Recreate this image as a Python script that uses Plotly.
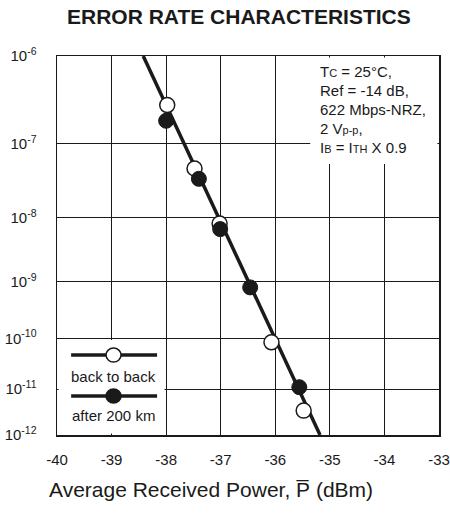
import numpy as np
import plotly.graph_objects as go

# ---- data ----
power_ticks = [-40, -39, -38, -37, -36, -35, -34, -33]
ber_exponents = [-6, -7, -8, -9, -10, -11, -12]

b2b_power = [-37.98, -37.48, -37.02, -36.07, -35.48]
b2b_ber = [2.9e-7, 4.8e-8, 8.2e-9, 8.5e-11, 3.5e-12]

km200_power = [-38.0, -37.40, -37.01, -36.46, -35.56]
km200_ber = [1.9e-7, 3.5e-8, 6.8e-9, 8.1e-10, 1.1e-11]

fit_power = [-38.42, -35.18]
fit_ber = [1e-6, 1e-12]

cond_lines = [
    "T<span style='font-size:11px'>C</span> = 25°C,",
    "Ref = -14 dB,",
    "622 Mbps-NRZ,",
    "2 V<span style='font-size:11px'>p-p</span>,",
    "I<span style='font-size:11px'>B</span> = I<span style='font-size:11px'>TH</span> X 0.9",
]


def q(ber):
    """BER probability scale: log(-log(BER)) type axis."""
    return np.log10(-np.log10(np.asarray(ber, dtype=float)) - 1.0)


FONT = "Liberation Sans, Arial, sans-serif"
INK = "#1a1a1a"

fig = go.Figure()
fig.add_trace(go.Scatter(x=fit_power, y=q(fit_ber), mode="lines",
                         line=dict(color=INK, width=3.5), showlegend=False,
                         hoverinfo="skip"))
fig.add_trace(go.Scatter(x=b2b_power, y=q(b2b_ber), mode="markers",
                         marker=dict(size=15, color="white",
                                     line=dict(color=INK, width=1.5)),
                         name="back to back", showlegend=False))
fig.add_trace(go.Scatter(x=km200_power, y=q(km200_ber), mode="markers",
                         marker=dict(size=15, color=INK,
                                     line=dict(color=INK, width=1)),
                         name="after 200 km", showlegend=False))

# white masks over the grid (legend box and conditions box)
dx = 0.03   # ~1.5 px in x units
dy = 0.0014  # ~1.5 px in y units
fig.add_shape(type="rect", xref="x", yref="y", x0=-40 + dx, x1=-38 - dx,
              y0=q(1e-12)[()] - dy, y1=q(1e-10)[()] + dy, fillcolor="white",
              line_width=0, layer="above")
fig.add_shape(type="rect", xref="x", yref="paper", x0=-35.36, x1=-33 - dx,
              y0=(435 - 164) / 379, y1=1 - 0.004, fillcolor="white", line_width=0,
              layer="above")

# legend samples
leg = [("back to back", "white", 0.211, 0.154), ("after 200 km", INK, 0.103, 0.051)]
for label, fill, ly, ty in leg:
    fig.add_shape(type="line", xref="paper", yref="paper", x0=0.037, x1=0.262,
                  y0=ly, y1=ly, line=dict(color=INK, width=3.5))
    fig.add_shape(type="circle", xref="paper", yref="paper", xsizemode="pixel",
                  ysizemode="pixel", xanchor=0.148, yanchor=ly, x0=-7.5, x1=7.5,
                  y0=-7, y1=7, fillcolor=fill, line=dict(color=INK, width=1.5))
    fig.add_annotation(x=0.149, y=ty, xref="paper", yref="paper", text=label,
                       showarrow=False, font=dict(size=15, color=INK, family=FONT),
                       xanchor="center", yanchor="middle")

# conditions text
for i, t in enumerate(cond_lines):
    ypix = 71 + i * 19
    fig.add_annotation(x=(318 - 57) / 382, y=(435 - ypix) / 379, xref="paper",
                       yref="paper", text=t, showarrow=False, xanchor="left",
                       yanchor="middle", font=dict(size=15, color=INK, family=FONT))

# title
fig.add_annotation(x=(239 - 57) / 382, y=(435 - 16) / 379, xref="paper", yref="paper",
                   text="<b>ERROR RATE CHARACTERISTICS</b>", showarrow=False,
                   xanchor="center", yanchor="middle",
                   font=dict(size=21, color=INK, family=FONT))
# x axis title
fig.add_annotation(x=(211 - 57) / 382, y=(435 - 489) / 379, xref="paper", yref="paper",
                   text="Average Received Power, P\u0305 (dBm)", showarrow=False,
                   xanchor="center", yanchor="middle",
                   font=dict(size=21, color=INK, family=FONT))

fig.update_xaxes(range=[-40, -33], tickvals=power_ticks,
                 ticktext=[str(v) for v in power_ticks],
                 showgrid=True, gridcolor=INK, gridwidth=1,
                 showline=True, linecolor=INK, linewidth=1.5, mirror=True,
                 ticks="outside", ticklen=10, tickcolor="rgba(0,0,0,0)",
                 tickfont=dict(size=15, color=INK, family=FONT), zeroline=False,
                 automargin=False)
fig.update_yaxes(range=[q(1e-12)[()], q(1e-6)[()]],
                 tickvals=list(q([10.0 ** e for e in ber_exponents])),
                 ticktext=[f"10<sup>{e}</sup>" for e in ber_exponents],
                 showgrid=True, gridcolor=INK, gridwidth=1,
                 showline=True, linecolor=INK, linewidth=1.5, mirror=True,
                 ticks="outside", ticklen=16, tickcolor="rgba(0,0,0,0)",
                 tickfont=dict(size=15, color=INK, family=FONT), zeroline=False,
                 automargin=False)

fig.update_layout(width=450, height=520, margin=dict(l=57, r=11, t=56, b=85),
                  plot_bgcolor="white", paper_bgcolor="white",
                  font=dict(family=FONT, color=INK), showlegend=False,
                  hovermode=False)

fig.write_html("out.html", config={"displayModeBar": False, "staticPlot": True},
               post_script="document.body.style.margin='0';document.body.style.padding='0';")
